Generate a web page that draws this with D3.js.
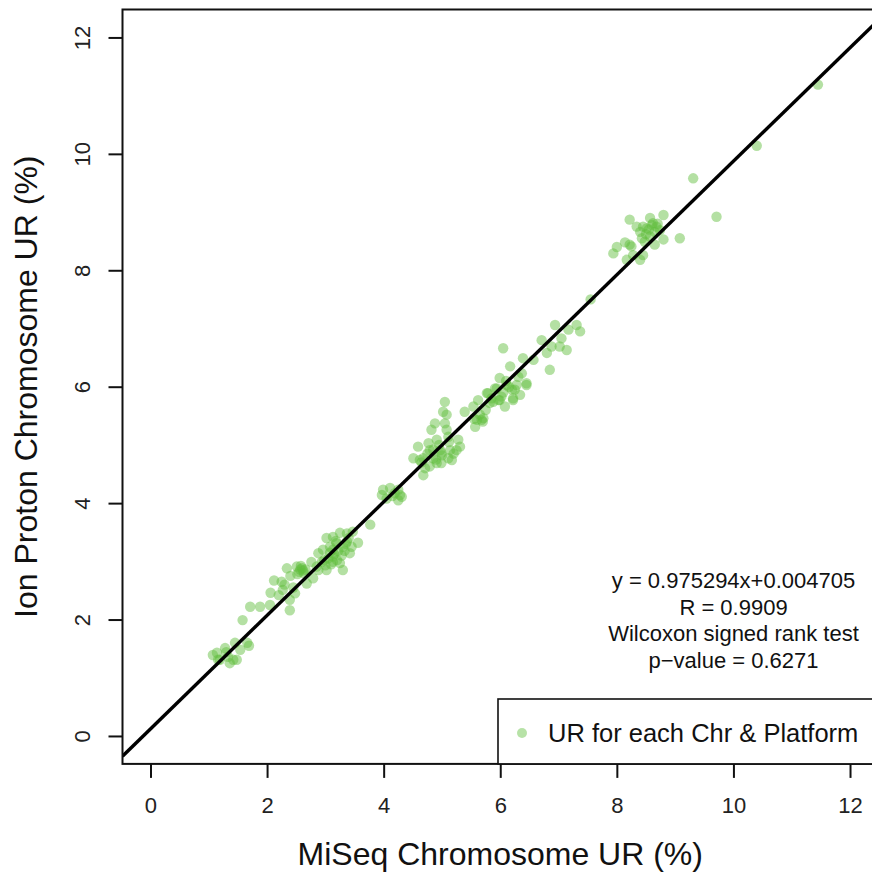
<!DOCTYPE html>
<html lang="en-US">
<head>
    <meta charset="utf-8">
    <title>MiSeq vs Ion Proton chromosome UR</title>
    <style>
        html,
        body {
            margin: 0;
            padding: 0;
            background: #fff;
        }

        #chart svg {
            display: block;
            font-family: "Liberation Sans", Arial, sans-serif;
        }

        .axis path,
        .axis line {
            stroke: #111;
            stroke-width: 2px;
        }

        .axis text {
            fill: #222;
            font-size: 22px;
        }
    </style>
    <script src="https://d3js.org/d3.v7.min.js"></script>
</head>

<body>
    <div id="chart"></div>

    <script>
        // MiSeq chromosome UR (%), one entry per chromosome & platform pair
        var miseqUR = [
            1.07, 1.14, 1.19, 1.28, 1.33, 1.36, 1.42, 1.48, 1.45, 1.54, 1.66, 1.69, 1.16, 1.30,
            1.58, 1.88, 1.71, 2.05, 2.06, 2.12, 2.25, 2.27, 2.39, 2.39, 2.34, 2.51, 2.55, 2.60,
            2.63, 2.58, 2.66, 2.52, 2.68, 2.79, 2.76, 2.88, 3.02, 3.13, 3.25, 3.37, 3.47, 3.56,
            3.77, 3.02, 2.85, 3.13, 3.25, 3.30, 3.13, 3.30, 3.42, 3.13, 2.96, 3.19, 3.37, 3.45,
            3.08, 2.94, 2.88, 3.05, 3.15, 3.22, 3.10, 2.98, 3.28, 3.35, 3.18, 3.40, 3.08,
            2.20, 2.30, 2.45, 2.40, 2.48, 2.57, 2.62, 3.00, 3.20, 3.33,
            3.99, 4.11, 4.19, 4.25, 4.28, 4.31, 4.25, 4.05, 3.97, 4.15,
            4.51, 4.59, 4.68, 4.71, 4.68, 4.77, 4.82, 4.88, 4.91, 4.97, 4.85, 4.99, 5.02, 5.05,
            5.08, 5.05, 5.08, 5.11, 5.14, 5.11, 5.17, 5.28, 5.31, 5.25, 4.79, 4.62, 4.91, 4.79,
            4.99, 4.75, 4.95, 5.00, 4.85, 5.12, 4.65, 4.90, 5.20,
            5.39, 5.54, 5.60, 5.57, 5.65, 5.68, 5.70, 5.62, 5.82, 5.79, 5.94, 6.02, 6.08, 6.22,
            6.34, 6.45, 6.28, 5.99, 6.05, 5.71, 5.77, 5.91, 5.99, 6.17, 6.22, 6.25, 6.31, 6.37,
            6.39, 6.45, 6.57, 6.71, 6.85, 6.80, 6.88, 7.02, 7.14, 7.05, 6.94, 7.17, 7.31, 7.37,
            5.97, 5.88, 6.11, 6.20, 5.85, 6.05, 6.15, 6.10, 5.75, 5.55, 7.55,
            9.31, 9.71, 9.08, 8.22, 8.80, 8.57, 8.34, 8.45, 8.51, 8.62, 8.68, 8.65, 8.74, 8.40,
            8.43, 8.48, 8.57, 8.80, 8.65, 8.14, 8.22, 8.25, 8.00, 7.94, 8.45, 8.40, 8.17, 8.28,
            8.55, 8.60, 8.70, 8.50,
            10.40, 11.45
        ];

        // Ion Proton chromosome UR (%), same order as miseqUR
        var protonUR = [
            1.39, 1.43, 1.31, 1.51, 1.36, 1.25, 1.31, 1.31, 1.60, 1.48, 1.60, 1.55, 1.31, 1.44,
            1.99, 2.22, 2.22, 2.25, 2.46, 2.67, 2.65, 2.51, 2.34, 2.16, 2.88, 2.91, 2.82, 2.88,
            2.80, 2.92, 2.86, 2.78, 2.62, 2.71, 2.99, 3.14, 3.40, 3.42, 3.49, 3.48, 3.51, 3.32,
            3.63, 2.85, 2.91, 2.99, 2.97, 2.85, 3.20, 3.25, 3.14, 3.08, 3.20, 3.31, 3.34, 3.25,
            3.25, 2.99, 2.85, 3.05, 3.12, 3.18, 2.95, 3.02, 3.10, 3.30, 3.35, 3.40, 3.15,
            2.42, 2.60, 2.55, 2.75, 2.45, 2.86, 2.84, 2.93, 3.02, 3.18,
            4.23, 4.26, 4.17, 4.23, 4.14, 4.11, 4.05, 4.08, 4.14, 4.12,
            4.77, 4.97, 4.48, 4.60, 4.77, 5.03, 5.26, 5.37, 5.09, 4.91, 4.77, 4.69, 5.57, 5.74,
            5.52, 5.37, 5.26, 5.14, 4.91, 4.77, 4.74, 5.09, 4.97, 4.91, 4.91, 4.74, 4.69, 4.63,
            4.86, 4.85, 5.00, 4.82, 4.92, 5.05, 4.70, 4.75, 4.85,
            5.57, 5.66, 5.43, 5.31, 5.52, 5.43, 5.40, 5.77, 5.72, 5.89, 5.97, 5.83, 5.66, 5.77,
            5.86, 6.03, 6.03, 5.77, 6.66, 5.46, 5.89, 5.97, 6.15, 6.35, 5.80, 5.95, 6.17, 6.23,
            6.49, 6.06, 6.46, 6.80, 6.29, 6.58, 6.69, 6.69, 6.63, 6.83, 7.06, 6.98, 7.06, 6.95,
            5.77, 5.74, 6.03, 5.95, 5.80, 5.90, 6.00, 6.10, 5.60, 5.45, 7.50,
            9.58, 8.92, 8.55, 8.87, 8.95, 8.90, 8.75, 8.75, 8.72, 8.81, 8.75, 8.66, 8.69, 8.66,
            8.55, 8.49, 8.58, 8.53, 8.44, 8.48, 8.44, 8.41, 8.40, 8.29, 8.26, 8.18, 8.18, 8.26,
            8.70, 8.78, 8.80, 8.62,
            10.14, 11.19
        ];

        // tick labels on both axes
        var tickValues = [0, 2, 4, 6, 8, 10, 12];

        // fitted line as drawn in the picture (slope / intercept)
        var fitSlope = 0.975294;
        var fitIntercept = 0.12;

        // annotation lines, legend label and titles
        var statsLines = [
            "y = 0.975294x+0.004705",
            "R = 0.9909",
            "Wilcoxon signed rank test",
            "p\u2212value = 0.6271"
        ];
        var legendLabel = "UR for each Chr & Platform";
        var xTitle = "MiSeq Chromosome UR (%)";
        var yTitle = "Ion Proton Chromosome UR (%)";

        var points = miseqUR.map(function(v, i) {
            return { x: v, y: protonUR[i] };
        });

        var W = 872,
            H = 872;

        // R-style 4% padding round 0..12 on both axes
        var x = d3.scaleLinear().domain([-0.48, 12.48]).range([122.5, 878]);
        var y = d3.scaleLinear().domain([-0.48, 12.48]).range([763.9, 9.5]);

        var pointColor = "#5FBE3C";

        var svg = d3.select("#chart").append("svg")
            .attr("width", W)
            .attr("height", H);

        svg.append("defs").append("clipPath")
            .attr("id", "plotclip")
            .append("rect")
            .attr("x", x.range()[0])
            .attr("y", y.range()[1])
            .attr("width", x.range()[1] - x.range()[0])
            .attr("height", y.range()[0] - y.range()[1]);

        var plot = svg.append("g").attr("clip-path", "url(#plotclip)");

        //the scatter points
        plot.append("g")
            .selectAll("circle")
            .data(points)
            .enter().append("circle")
            .attr("cx", function(d) { return x(d.x); })
            .attr("cy", function(d) { return y(d.y); })
            .attr("r", 5.2)
            .attr("fill", pointColor)
            .attr("fill-opacity", 0.47);

        //regression line, spans the whole plot region
        var xd = x.domain();
        plot.append("line")
            .attr("x1", x(xd[0]))
            .attr("y1", y(fitSlope * xd[0] + fitIntercept))
            .attr("x2", x(xd[1]))
            .attr("y2", y(fitSlope * xd[1] + fitIntercept))
            .attr("stroke", "#000")
            .attr("stroke-width", 3.4);

        // x axis
        var xAxis = svg.append("g")
            .attr("class", "axis")
            .attr("transform", "translate(0," + y.range()[0] + ")")
            .call(d3.axisBottom(x).tickValues(tickValues).tickSize(14).tickSizeOuter(0).tickPadding(19));
        xAxis.select(".domain").remove();

        // y axis, labels turned parallel to the axis
        var yAxis = svg.append("g")
            .attr("class", "axis")
            .attr("transform", "translate(" + x.range()[0] + ",0)")
            .call(d3.axisLeft(y).tickValues(tickValues).tickSize(14).tickSizeOuter(0));
        yAxis.select(".domain").remove();
        yAxis.selectAll("text")
            .attr("x", null)
            .attr("dy", "0.36em")
            .attr("text-anchor", "middle")
            .attr("transform", "translate(-40.5,0) rotate(-90)");

        // the plot box
        svg.append("rect")
            .attr("x", x.range()[0])
            .attr("y", y.range()[1])
            .attr("width", x.range()[1] - x.range()[0])
            .attr("height", y.range()[0] - y.range()[1])
            .attr("fill", "none")
            .attr("stroke", "#111")
            .attr("stroke-width", 2);

        // stats text
        svg.append("g")
            .selectAll("text")
            .data(statsLines)
            .enter().append("text")
            .attr("x", 733.5)
            .attr("y", function(d, i) { return 588 + i * 26.7; })
            .attr("text-anchor", "middle")
            .attr("font-size", "22px")
            .attr("fill", "#111")
            .text(function(d) { return d; });

        // legend
        var legend = svg.append("g");
        legend.append("rect")
            .attr("x", 498)
            .attr("y", 699)
            .attr("width", 400)
            .attr("height", y.range()[0] - 699)
            .attr("fill", "#fff")
            .attr("stroke", "#111")
            .attr("stroke-width", 1.6);
        legend.append("circle")
            .attr("cx", 522)
            .attr("cy", 733)
            .attr("r", 5)
            .attr("fill", pointColor)
            .attr("fill-opacity", 0.45);
        legend.append("text")
            .attr("x", 548)
            .attr("y", 742)
            .attr("font-size", "25.5px")
            .attr("fill", "#111")
            .text(legendLabel);

        // axis titles
        svg.append("text")
            .attr("x", (x.range()[0] + x.range()[1]) / 2)
            .attr("y", 865)
            .attr("text-anchor", "middle")
            .attr("font-size", "32px")
            .attr("fill", "#111")
            .text(xTitle);

        svg.append("text")
            .attr("transform", "translate(37," + (y.range()[0] + y.range()[1]) / 2 + ") rotate(-90)")
            .attr("text-anchor", "middle")
            .attr("font-size", "32px")
            .attr("fill", "#111")
            .text(yTitle);
    </script>
</body>

</html>
